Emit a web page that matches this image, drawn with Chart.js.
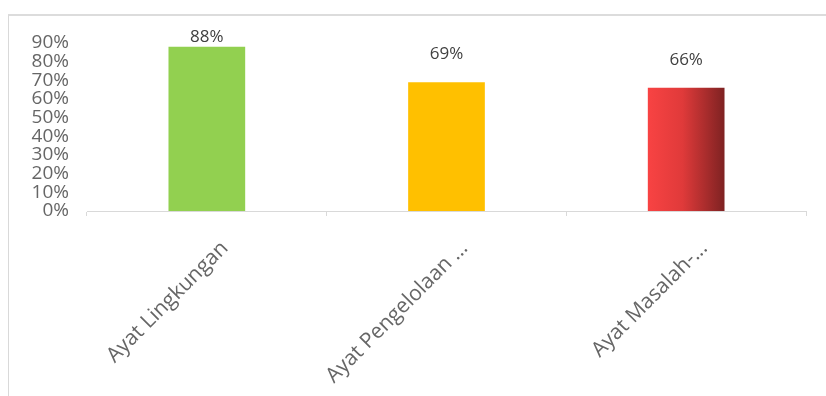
<!DOCTYPE html>
<html>
<head>
<meta charset="utf-8">
<script src="https://cdn.jsdelivr.net/npm/chart.js@4.4.0/dist/chart.umd.min.js"></script>
<style>
  body { margin: 0; background: #fff; overflow: hidden; }
  #wrap { position: relative; width: 826px; height: 396px; }
  #frame { position: absolute; left: 8px; top: 14px; width: 900px; height: 500px;
           border-left: 1px solid #d9d9d9; border-top: 2px solid #dcdcdc; }
  canvas { position: absolute; left: 0; top: 0; }
</style>
</head>
<body>
<div id="wrap">
  <div id="frame"></div>
  <canvas id="chart" width="826" height="396"></canvas>
</div>
<script>
const categories = ["Ayat Lingkungan", "Ayat Pengelolaan ...", "Ayat Masalah-..."];
const values = [88, 69, 66];
const barColors = ["#92d050", "#ffc000", "#f44242"];
const yMax = 90;
const yStep = 10;

const font = "'Open Sans', sans-serif";

const valueLabels = {
    id: "valueLabels",
    afterDatasetsDraw(chart) {
        const ctx = chart.ctx;
        const meta = chart.getDatasetMeta(0);
        ctx.save();
        ctx.font = "17px " + font;
        ctx.fillStyle = "#404040";
        ctx.textAlign = "center";
        ctx.textBaseline = "middle";
        meta.data.forEach(function (bar, i) {
            const y = Math.max(bar.y - 28, chart.chartArea.top - 6);
            ctx.fillText(values[i] + "%", bar.x, y);
        });
        ctx.restore();
    }
};

function barFill(context) {
    const i = context.dataIndex;
    if (i !== 2) return barColors[i];
    const chart = context.chart;
    if (!chart.chartArea || !chart.scales.x) return barColors[i];
    const x = chart.scales.x;
    const center = x.getPixelForValue(i);
    const half = (x.width / categories.length) * 0.32 / 2;
    const g = chart.ctx.createLinearGradient(center - half, 0, center + half, 0);
    g.addColorStop(0, "#f84343");
    g.addColorStop(0.45, "#e03a3a");
    g.addColorStop(1, "#7e2222");
    return g;
}

const ctx = document.getElementById("chart").getContext("2d");

new Chart(ctx, {
    type: "bar",
    data: {
        labels: categories,
        datasets: [{
            data: values,
            backgroundColor: barFill,
            borderWidth: 0,
            categoryPercentage: 1,
            barPercentage: 0.32
        }]
    },
    options: {
        responsive: false,
        animation: false,
        layout: { padding: { top: 43, right: 20, left: 0, bottom: 0 } },
        plugins: { legend: { display: false }, tooltip: { enabled: false } },
        scales: {
            x: {
                offset: true,
                grid: { offset: true, drawOnChartArea: false, color: "#d9d9d9", tickLength: 5 },
                border: { color: "#d9d9d9" },
                ticks: {
                    minRotation: 45, maxRotation: 45, autoSkip: false,
                    color: "#666666", font: { family: font, size: 21 },
                    padding: 20, labelOffset: 18
                },
                afterFit(scale) { scale.height = 396 - 211; }
            },
            y: {
                min: 0, max: yMax,
                grid: { display: false },
                border: { display: false },
                ticks: {
                    stepSize: yStep, autoSkip: false,
                    color: "#666666", font: { family: font, size: 19 }, padding: 10,
                    callback: function (v) { return v + "%"; }
                },
                afterFit(scale) { scale.width = 87; }
            }
        }
    },
    plugins: [valueLabels]
});
</script>
</body>
</html>
